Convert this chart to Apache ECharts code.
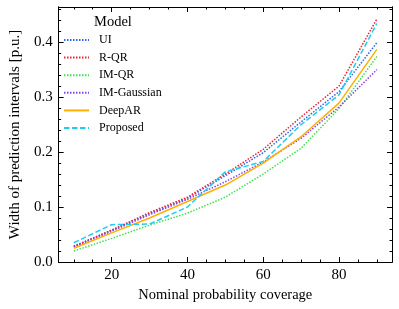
<!DOCTYPE html>
<html>
<head>
<meta charset="utf-8">
<script src="https://cdn.jsdelivr.net/npm/echarts@6/dist/echarts.min.js"></script>
<style>html,body{margin:0;padding:0;background:#fff}#c{width:399px;height:309px}</style>
</head>
<body>
<div id="c"></div>
<script>
const coverage = [10, 20, 30, 40, 50, 60, 70, 80, 90];
const UI = [0.029, 0.058, 0.088, 0.116, 0.157, 0.199, 0.255, 0.310, 0.399];
const RQR = [0.028, 0.058, 0.090, 0.118, 0.160, 0.205, 0.264, 0.320, 0.442];
const IMQR = [0.020, 0.043, 0.067, 0.089, 0.118, 0.160, 0.207, 0.279, 0.374];
const IMGaussian = [0.027, 0.056, 0.086, 0.114, 0.146, 0.182, 0.225, 0.282, 0.350];
const DeepAR = [0.025, 0.053, 0.080, 0.110, 0.140, 0.180, 0.228, 0.289, 0.387];
const Proposed = [0.035, 0.068, 0.069, 0.100, 0.164, 0.183, 0.250, 0.304, 0.434];
const xMajor = [20, 40, 60, 80];
const xMinor = [10, 15, 25, 30, 35, 45, 50, 55, 65, 70, 75, 85, 90];
const yMajor = [0, 0.1, 0.2, 0.3, 0.4];
const yMinor = [0.02, 0.04, 0.06, 0.08, 0.12, 0.14, 0.16, 0.18, 0.22, 0.24, 0.26, 0.28, 0.32, 0.34, 0.36, 0.38, 0.42, 0.44, 0.46];

const FONT = 'Liberation Serif';
const XMIN = 6, XMAX = 94, YMIN = 0, YMAX = 0.464;

function xAx(pos, vals, len, labels, extra) {
  return Object.assign({
    type: 'value', position: pos, min: XMIN, max: XMAX,
    axisLine: {show: true, onZero: false, lineStyle: {color: '#000', width: 1}},
    axisTick: {show: true, inside: true, length: len, customValues: vals, lineStyle: {color: '#000', width: 1}},
    axisLabel: {show: labels, customValues: vals, color: '#000', fontFamily: FONT, fontSize: 15, margin: 6},
    splitLine: {show: false}
  }, extra || {});
}
function yAx(pos, vals, len, labels, extra) {
  return Object.assign({
    type: 'value', position: pos, min: YMIN, max: YMAX,
    axisLine: {show: true, onZero: false, lineStyle: {color: '#000', width: 1}},
    axisTick: {show: true, inside: true, length: len, customValues: vals, lineStyle: {color: '#000', width: 1}},
    axisLabel: {show: labels, customValues: vals, color: '#000', fontFamily: FONT, fontSize: 15, margin: 6,
      formatter: v => v.toFixed(1)},
    splitLine: {show: false}
  }, extra || {});
}

const colors = ['#3366ee', '#ee2233', '#44dd55', '#8844ee', '#ffb000', '#22ccf0'];
const names = ['UI', 'R-QR', 'IM-QR', 'IM-Gaussian', 'DeepAR', 'Proposed'];
const datasets = [UI, RQR, IMQR, IMGaussian, DeepAR, Proposed];
const types = ['dotted', 'dotted', 'dotted', 'dotted', 'solid', 'dashed'];

const series = names.map((n, i) => ({
  name: n, type: 'line', xAxisIndex: 0, yAxisIndex: 0,
  data: coverage.map((c, j) => [c, datasets[i][j]]),
  showSymbol: false, symbol: 'none',
  lineStyle: {color: colors[i], width: 1.5, type: types[i] === 'dotted' ? [1.5, 1.5] : (types[i] === 'dashed' ? [5.5, 2.5] : 'solid')},
  itemStyle: {color: colors[i]},
  animation: false
}));

const chart = echarts.init(document.getElementById('c'), null, {renderer: 'canvas'});
chart.setOption({
  animation: false,
  grid: {left: 52, right: 7, top: 7, bottom: 47},
  xAxis: [
    xAx('bottom', xMajor, 5, true, {name: 'Nominal probability coverage', nameLocation: 'middle', nameGap: 23,
      nameTextStyle: {color: '#000', fontFamily: FONT, fontSize: 14.5}}),
    xAx('bottom', xMinor, 2.5, false),
    xAx('top', xMajor, 5, false),
    xAx('top', xMinor, 2.5, false)
  ],
  yAxis: [
    yAx('left', yMajor, 5, true, {name: 'Width of prediction intervals [p.u.]', nameLocation: 'middle', nameGap: 35,
      nameTextStyle: {color: '#000', fontFamily: FONT, fontSize: 15}}),
    yAx('left', yMinor, 2.5, false),
    yAx('right', yMajor, 5, false),
    yAx('right', yMinor, 2.5, false)
  ],
  legend: {
    orient: 'vertical', left: 63, top: 34, padding: 0, itemWidth: 25, itemHeight: 12, itemGap: 5.6,
    itemStyle: {opacity: 0},
    textStyle: {color: '#000', fontFamily: FONT, fontSize: 12, padding: [0, 0, 0, 5]},
    data: names
  },
  graphic: [{type: 'text', left: 94, top: 15, style: {text: 'Model', fill: '#000', font: '14.5px "Liberation Serif"'}}],
  series: series
});
</script>
</body>
</html>
